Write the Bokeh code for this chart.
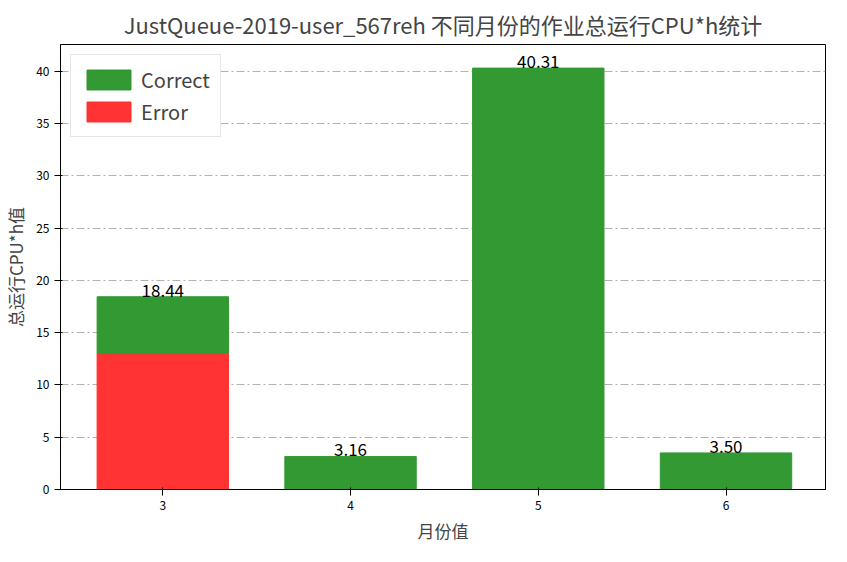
from bokeh.plotting import figure
from bokeh.models import Range1d, ColumnDataSource, FixedTicker
from bokeh.core.properties import value
from bokeh.embed import file_html
from bokeh.resources import INLINE

months = [3, 4, 5, 6]
error = [13.0, 0.0, 0.05, 0.0]
total = [18.44, 3.16, 40.31, 3.50]
correct = [t - e for t, e in zip(total, error)]
labels = ["%.2f" % t for t in total]

FONT = "Noto Sans CJK SC"
src = ColumnDataSource(dict(x=months, error=error, correct=correct, total=total, label=labels))

p = figure(width=830, height=545, output_backend="svg", toolbar_location=None,
           x_range=Range1d(2.455, 6.53), y_range=Range1d(0, 42.57),
           title="JustQueue-2019-user_567reh 不同月份的作业总运行CPU*h统计")
p.title.text_font = FONT
p.title.text_font_size = "22px"
p.title.text_font_style = "normal"
p.title.align = "center"

p.vbar_stack(["error", "correct"], x="x", width=0.7, source=src,
             color=["#ff3333", "#339933"], legend_label=["Error", "Correct"])
p.text(x="x", y="total", text="label", source=src, text_align="center",
       text_baseline="bottom", text_font=value(FONT), text_font_size="17px")

p.xaxis.ticker = FixedTicker(ticks=months)
p.xaxis.axis_label = "月份值"
p.yaxis.axis_label = "总运行CPU*h值"
for ax in (p.xaxis, p.yaxis):
    ax.axis_label_text_font = FONT
    ax.axis_label_text_font_style = "normal"
    ax.axis_label_text_font_size = "17px"
    ax.major_label_text_font = FONT
    ax.major_label_text_font_size = "12px"
    ax.minor_tick_line_color = None
    ax.major_label_text_color = "black"
p.yaxis.ticker = FixedTicker(ticks=[0, 5, 10, 15, 20, 25, 30, 35, 40])
p.xgrid.grid_line_color = None
p.ygrid.grid_line_color = "#b0b0b0"
p.ygrid.grid_line_dash = "8 3 2 3"
p.outline_line_color = "black"

p.legend.location = "top_left"
p.legend.label_text_font = FONT
p.legend.label_text_font_size = "20px"
p.legend.glyph_width = 55
p.legend.glyph_height = 25
p.legend.border_line_color = "#cccccc"
p.legend.items = list(reversed(p.legend.items))

open("out.html", "w").write(file_html(p, INLINE))
